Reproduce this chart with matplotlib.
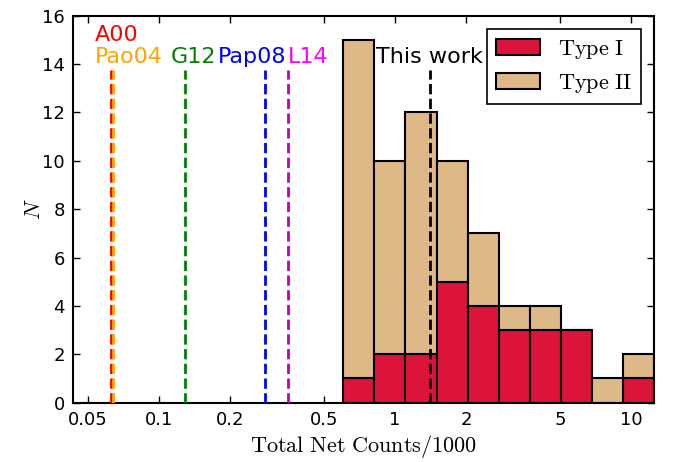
import matplotlib
matplotlib.use("Agg")
from matplotlib import pyplot as plt
from matplotlib.ticker import NullLocator, FixedLocator, FixedFormatter
import numpy as np

plt.rcParams['mathtext.fontset'] = 'cm'

# bin edges (counts/1000) and histogram counts
bin_edges = [0.603, 0.815, 1.102, 1.500, 2.027, 2.747, 3.712, 5.036, 6.806, 9.199, 12.50]
type1 = [1, 2, 2, 5, 4, 3, 3, 3, 0, 1]
type2 = [14, 8, 10, 5, 3, 1, 1, 0, 1, 1]

# reference lines from previous works
ref_names = ["A00", "Pao04", "G12", "Pap08", "L14"]
ref_x = [0.0625, 0.0642, 0.1296, 0.283, 0.352]
ref_line_colors = ["red", "orange", (0, 0.5, 0), "blue", (0.75, 0, 0.75)]
ref_text_colors = ["red", "orange", (0, 0.5, 0), "blue", "magenta"]
ref_text_x = [0.0537, 0.0537, 0.1398, 0.249, 0.431]
ref_text_y = [15.2, 14.3, 14.3, 14.3, 14.3]
ref_text_ha = ["left", "left", "center", "center", "center"]
this_work_x = 1.40

xticks = [0.05, 0.1, 0.2, 0.5, 1, 2, 5, 10]
xticklabels = ["0.05", "0.1", "0.2", "0.5", "1", "2", "5", "10"]

fig = plt.figure(figsize=(6.73, 4.62), dpi=100)
ax = fig.add_axes([0.109, 0.1284, 0.863, 0.8376])

left = np.array(bin_edges[:-1])
widths = np.diff(bin_edges)
ax.bar(left, type1, width=widths, align='edge', color='#DC143C',
       edgecolor='black', linewidth=1.5, label=r'$\mathrm{Type\ I}$', zorder=2)
ax.bar(left, type2, width=widths, bottom=type1, align='edge', color='#DEB887',
       edgecolor='black', linewidth=1.5, label=r'$\mathrm{Type\ II}$', zorder=2)

for x, c in zip(ref_x, ref_line_colors):
    ax.plot([x, x], [0, 13.75], ls='--', color=c, lw=2, zorder=3)
ax.plot([this_work_x, this_work_x], [0, 13.75], ls='--', color='black', lw=2, zorder=3)

for name, x, y, c, ha in zip(ref_names, ref_text_x, ref_text_y, ref_text_colors, ref_text_ha):
    ax.text(x, y, name, color=c, fontsize=16, ha=ha, va='center')
ax.text(this_work_x, 14.3, "This work", color='black', fontsize=16, ha='center', va='center')

ax.set_xscale('log')
ax.set_xlim(0.0435, 12.5)
ax.set_ylim(0, 16)
ax.xaxis.set_major_locator(FixedLocator(xticks))
ax.xaxis.set_major_formatter(FixedFormatter(xticklabels))
ax.xaxis.set_minor_locator(NullLocator())
ax.set_yticks(range(0, 17, 2))

ax.tick_params(direction='in', top=True, right=True, length=5, width=1, labelsize=13, pad=6)
for s in ax.spines.values():
    s.set_linewidth(1.5)

ax.set_xlabel(r'$\mathrm{Total\ Net\ Counts/1000}$', fontsize=16, labelpad=3)
ax.set_ylabel(r'$N$', fontsize=16, labelpad=-1)

leg = ax.legend(loc='upper right', fontsize=16, fancybox=False, edgecolor='black',
                framealpha=1, borderaxespad=0.6)
leg.get_frame().set_linewidth(1.2)

fig.savefig("out.png", dpi=100)
